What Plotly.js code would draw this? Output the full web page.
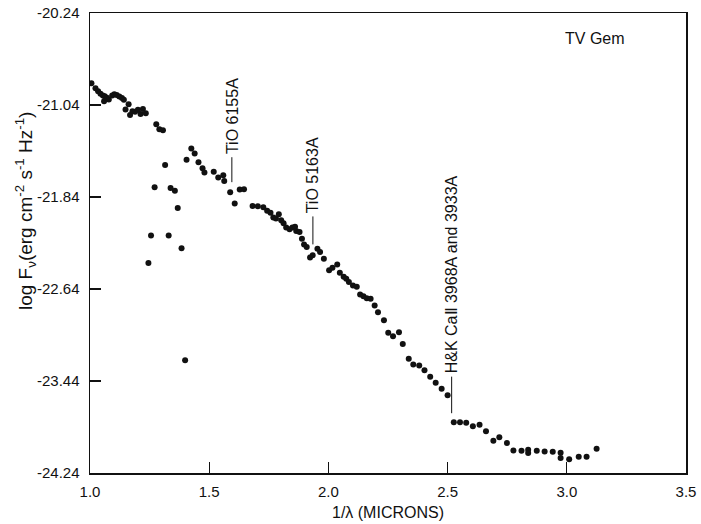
<!DOCTYPE html>
<html>
<head>
<meta charset="utf-8">
<script src="https://cdn.plot.ly/plotly-3.0.1.min.js"></script>
<style>html,body{margin:0;padding:0;background:#fff;}#chart{width:701px;height:524px;}</style>
</head>
<body>
<div id="chart"></div>
<script>
// 1/lambda (microns)
const invLambda = [1.006,1.023,1.034,1.044,1.054,1.062,1.059,1.071,1.079,1.093,
1.102,1.112,1.123,1.134,1.142,1.149,1.162,1.168,1.178,1.189,
1.201,1.212,1.222,1.234,1.278,1.291,1.306,1.315,1.271,1.338,
1.356,1.368,1.256,1.330,1.384,1.245,1.399,1.405,1.425,1.439,
1.455,1.472,1.480,1.519,1.538,1.559,1.563,1.588,1.607,1.628,
1.646,1.682,1.704,1.727,1.743,1.757,1.769,1.780,1.792,1.802,
1.812,1.823,1.837,1.849,1.860,1.865,1.879,1.889,1.898,1.909,
1.923,1.934,1.954,1.965,1.981,2.003,2.017,2.037,2.048,2.064,
2.075,2.086,2.103,2.119,2.133,2.147,2.161,2.177,2.194,2.208,
2.233,2.251,2.271,2.296,2.312,2.337,2.356,2.381,2.403,2.427,
2.450,2.475,2.500,2.526,2.552,2.578,2.606,2.634,2.661,2.692,
2.717,2.749,2.776,2.810,2.838,2.838,2.874,2.907,2.941,2.974,
2.974,3.010,3.050,3.083,3.125];
// log F_nu
const logFnu = [-20.850,-20.894,-20.920,-20.943,-20.958,-20.963,-21.007,-20.978,-20.993,-20.958,
-20.946,-20.952,-20.967,-20.979,-20.994,-21.080,-21.034,-21.126,-21.094,-21.098,
-21.081,-21.118,-21.075,-21.112,-21.208,-21.251,-21.260,-21.561,-21.755,-21.761,
-21.785,-21.935,-22.175,-22.175,-22.285,-22.414,-23.260,-21.516,-21.418,-21.461,
-21.537,-21.589,-21.626,-21.621,-21.670,-21.650,-21.700,-21.798,-21.896,-21.775,
-21.772,-21.918,-21.920,-21.929,-21.960,-21.977,-22.019,-22.028,-21.990,-22.043,
-22.069,-22.106,-22.121,-22.106,-22.098,-22.136,-22.145,-22.202,-22.252,-22.275,
-22.367,-22.347,-22.289,-22.319,-22.376,-22.478,-22.455,-22.426,-22.498,-22.533,
-22.551,-22.580,-22.609,-22.620,-22.687,-22.702,-22.720,-22.725,-22.783,-22.842,
-22.911,-23.021,-23.050,-23.016,-23.118,-23.247,-23.297,-23.305,-23.346,-23.404,
-23.456,-23.508,-23.564,-23.799,-23.799,-23.804,-23.834,-23.820,-23.878,-23.959,
-23.930,-23.979,-24.044,-24.047,-24.038,-24.067,-24.047,-24.053,-24.056,-24.063,
-24.109,-24.120,-24.098,-24.098,-24.029];

const yTickVals = [-24.24,-23.44,-22.64,-21.84,-21.04,-20.24];
const yTickText = ["-24.24","-23.44","-22.64","-21.84","-21.04","-20.24"];
const xTickVals = [1.0,1.5,2.0,2.5,3.0,3.5];
const xTickText = ["1.0","1.5","2.0","2.5","3.0","3.5"];

// spectral feature labels
const featureLabels = ["TiO 6155A","TiO 5163A","H&amp;K Ca\u2161 3968A and 3933A"];
const featureX = [1.595,1.935,2.517];
const featureTop = [-21.494,-22.009,-23.402];
const featureBottom = [-21.711,-22.252,-23.720];

const FONT = '"Liberation Sans", Arial, Helvetica, sans-serif';
const ink = '#111';

const shapes = featureX.map((x,i)=>({type:'line',xref:'x',yref:'y',x0:x,x1:x,y0:featureTop[i],y1:featureBottom[i],line:{color:ink,width:1}}));
const annotations = featureX.map((x,i)=>({xref:'x',yref:'y',x:x,y:featureTop[i],text:featureLabels[i],textangle:-90,showarrow:false,xanchor:'center',yanchor:'bottom',yshift:1,font:{family:FONT,size:16,color:ink}}));
annotations.push({xref:'paper',yref:'paper',x:0.847,y:0.944,text:'TV Gem',showarrow:false,xanchor:'center',yanchor:'middle',font:{family:FONT,size:16,color:ink}});
annotations.push({xref:'paper',yref:'paper',x:-0.107,y:0.57,textangle:-90,showarrow:false,xanchor:'center',yanchor:'middle',
  text:'log F<sub>\u03bd</sub>(erg cm<sup>-2</sup> s<sup>-1</sup> Hz<sup>-1</sup>)',font:{family:FONT,size:19,color:ink}});

const trace = {x:invLambda,y:logFnu,type:'scatter',mode:'markers',marker:{color:ink,size:6},hoverinfo:'x+y'};

const layout = {
  width:701,height:524,
  margin:{l:90,r:15,t:13,b:51,pad:0},
  paper_bgcolor:'#fff',plot_bgcolor:'#fff',
  showlegend:false,
  font:{family:FONT,size:15,color:ink},
  xaxis:{range:[1.0,3.5],tickvals:xTickVals,ticktext:xTickText,ticks:'inside',ticklen:11,tickwidth:1.3,tickcolor:'#111',
    showline:true,linecolor:'#111',linewidth:1.5,mirror:true,showgrid:false,zeroline:false,
    tickfont:{family:FONT,size:15,color:ink},ticklabelstandoff:4,
    title:{text:'1/\u03bb (MICRONS)',font:{family:FONT,size:16,color:ink},standoff:8}},
  yaxis:{range:[-24.24,-20.24],tickvals:yTickVals,ticktext:yTickText,ticks:'inside',ticklen:11,tickwidth:1.3,tickcolor:'#111',
    showline:true,linecolor:'#111',linewidth:1.5,mirror:true,showgrid:false,zeroline:false,
    tickfont:{family:FONT,size:15,color:ink},ticklabelstandoff:6},
  shapes:shapes,
  annotations:annotations
};

Plotly.newPlot('chart',[trace],layout,{displayModeBar:false,staticPlot:true});
</script>
</body>
</html>
